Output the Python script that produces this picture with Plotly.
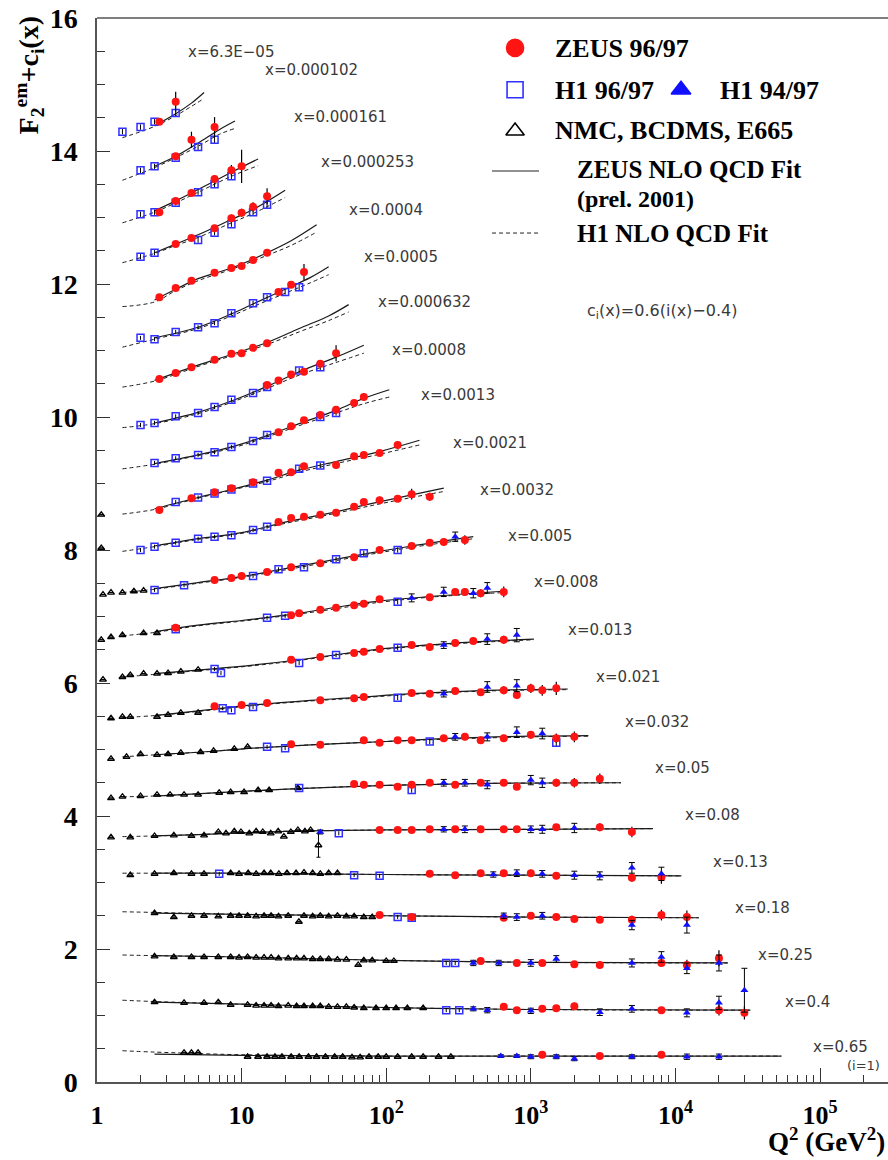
import math
import plotly.graph_objects as go

# x bins, top (i=23) to bottom (i=1); plotted value is F2 + c_i(x), c_i = 0.6(i - 0.4)
X_BINS = ["6.3E-05", "0.000102", "0.000161", "0.000253", "0.0004", "0.0005",
          "0.000632", "0.0008", "0.0013", "0.0021", "0.0032", "0.005", "0.008",
          "0.013", "0.021", "0.032", "0.05", "0.08", "0.13", "0.18", "0.25",
          "0.4", "0.65"]

# (Q2, F2 + c_i, error)
ZEUS_9697 = {
    "6.3E-05": [(2.7, 14.44, 0.04), (3.5, 14.74, 0.15)],
    "0.000102": [(3.5, 13.92, 0.05), (4.5, 14.17, 0.12), (6.5, 14.36, 0.15)],
    "0.000161": [(2.7, 13.08, 0.04), (3.5, 13.25, 0.05), (4.5, 13.37, 0.05), (6.5, 13.58, 0.06),
                 (8.5, 13.71, 0.08), (10, 13.77, 0.25)],
    "0.000253": [(3.5, 12.6, 0.04), (4.5, 12.69, 0.04), (6.5, 12.84, 0.05), (8.5, 12.99, 0.05),
                 (10, 13.07, 0.06), (12, 13.16, 0.07), (15, 13.32, 0.12)],
    "0.0004": [(2.7, 11.8, 0.04), (3.5, 11.94, 0.04), (4.5, 12.05, 0.04), (6.5, 12.17, 0.04),
               (8.5, 12.24, 0.04), (10, 12.27, 0.04), (12, 12.36, 0.05), (15, 12.47, 0.05)],
    "0.0005": [(18, 11.88, 0.04), (22, 11.99, 0.05), (27, 12.18, 0.12)],
    "0.000632": [(2.7, 10.57, 0.04), (3.5, 10.66, 0.04), (4.5, 10.75, 0.04), (6.5, 10.86, 0.04),
                 (8.5, 10.95, 0.04), (10, 10.96, 0.04), (12, 11.04, 0.04), (15, 11.11, 0.05)],
    "0.0008": [(15, 10.48, 0.04), (18, 10.55, 0.04), (22, 10.64, 0.04), (27, 10.68, 0.05),
               (35, 10.8, 0.05), (45, 10.96, 0.12)],
    "0.0013": [(18, 9.77, 0.04), (22, 9.86, 0.04), (27, 9.95, 0.04), (35, 10.03, 0.04),
               (45, 10.11, 0.05), (60, 10.21, 0.05), (70, 10.3, 0.06)],
    "0.0021": [(2.7, 8.6, 0.04), (4.5, 8.78, 0.04), (6.5, 8.87, 0.04), (8.5, 8.93, 0.04),
               (12, 9.02, 0.04), (18, 9.16, 0.04), (22, 9.17, 0.04), (27, 9.26, 0.04),
               (45, 9.28, 0.04), (60, 9.41, 0.04), (70, 9.43, 0.05), (90, 9.46, 0.05),
               (120, 9.58, 0.06)],
    "0.0032": [(18, 8.42, 0.04), (22, 8.48, 0.04), (27, 8.5, 0.04), (35, 8.53, 0.04),
               (45, 8.56, 0.04), (60, 8.65, 0.04), (70, 8.72, 0.04), (90, 8.75, 0.05),
               (120, 8.77, 0.05), (150, 8.84, 0.08), (200, 8.8, 0.06)],
    "0.005": [(6.5, 7.55, 0.04), (8.5, 7.58, 0.04), (10, 7.61, 0.04), (15, 7.67, 0.04),
              (22, 7.74, 0.04), (35, 7.8, 0.04), (60, 7.89, 0.04), (90, 8.0, 0.04),
              (150, 8.06, 0.05), (200, 8.11, 0.05), (250, 8.12, 0.06), (350, 8.15, 0.07)],
    "0.008": [(3.5, 6.83, 0.04), (22, 7.02, 0.04), (25, 7.05, 0.04), (35, 7.1, 0.04),
              (45, 7.13, 0.04), (60, 7.17, 0.04), (70, 7.19, 0.04), (90, 7.26, 0.04),
              (200, 7.29, 0.05), (300, 7.37, 0.05), (350, 7.37, 0.06), (450, 7.35, 0.06),
              (650, 7.37, 0.08)],
    "0.013": [(22, 6.35, 0.04), (35, 6.39, 0.04), (60, 6.45, 0.04), (70, 6.47, 0.04),
              (90, 6.51, 0.04), (150, 6.57, 0.04), (200, 6.54, 0.04), (300, 6.6, 0.05),
              (400, 6.63, 0.05), (650, 6.65, 0.06)],
    "0.021": [(6.5, 5.65, 0.04), (10, 5.67, 0.04), (15, 5.7, 0.04), (35, 5.74, 0.04),
              (60, 5.77, 0.04), (70, 5.79, 0.04), (150, 5.85, 0.04), (200, 5.84, 0.04),
              (300, 5.88, 0.05), (450, 5.86, 0.05), (650, 5.89, 0.06), (800, 5.82, 0.06),
              (1000, 5.92, 0.07), (1200, 5.89, 0.08), (1500, 5.92, 0.1)],
    "0.032": [(22, 5.08, 0.04), (35, 5.07, 0.04), (70, 5.14, 0.04), (90, 5.1, 0.04),
              (120, 5.14, 0.04), (150, 5.14, 0.04), (250, 5.17, 0.04), (350, 5.19, 0.05),
              (450, 5.14, 0.05), (650, 5.17, 0.05), (1000, 5.22, 0.06), (1500, 5.17, 0.07),
              (2000, 5.19, 0.08)],
    "0.05": [(60, 4.48, 0.04), (70, 4.47, 0.04), (90, 4.47, 0.04), (120, 4.44, 0.04),
             (150, 4.47, 0.04), (200, 4.5, 0.04), (300, 4.47, 0.04), (450, 4.5, 0.05),
             (650, 4.5, 0.05), (800, 4.44, 0.05), (1500, 4.5, 0.06), (2000, 4.5, 0.07),
             (3000, 4.56, 0.08)],
    "0.08": [(90, 3.79, 0.04), (120, 3.79, 0.04), (150, 3.79, 0.04), (200, 3.8, 0.04),
             (300, 3.8, 0.04), (450, 3.8, 0.04), (650, 3.8, 0.05), (800, 3.8, 0.05),
             (1500, 3.83, 0.05), (3000, 3.83, 0.06), (5000, 3.76, 0.08)],
    "0.13": [(200, 3.13, 0.04), (300, 3.11, 0.04), (450, 3.14, 0.04), (650, 3.14, 0.04),
             (1000, 3.14, 0.05), (1500, 3.1, 0.05), (5000, 3.07, 0.06), (8000, 3.08, 0.1)],
    "0.18": [(90, 2.51, 0.04), (150, 2.48, 0.04), (650, 2.47, 0.04), (1000, 2.5, 0.04),
             (1500, 2.48, 0.05), (2000, 2.45, 0.05), (3000, 2.44, 0.05), (5000, 2.44, 0.06),
             (8000, 2.51, 0.08), (12000, 2.48, 0.1)],
    "0.25": [(450, 1.82, 0.04), (800, 1.79, 0.04), (1200, 1.79, 0.04), (2000, 1.77, 0.05),
             (3000, 1.76, 0.05), (8000, 1.79, 0.06), (12000, 1.76, 0.08), (20000, 1.86, 0.12)],
    "0.4": [(650, 1.13, 0.04), (800, 1.08, 0.04), (1200, 1.1, 0.04), (1500, 1.11, 0.04),
            (2000, 1.14, 0.05), (8000, 1.08, 0.05), (20000, 1.08, 0.08), (30000, 1.04, 0.1)],
    "0.65": [(1200, 0.41, 0.03), (3000, 0.39, 0.03), (8000, 0.41, 0.04)],
}

H1_9697 = {
    "6.3E-05": [(1.5, 14.29, 0.04), (2.0, 14.36, 0.04), (2.5, 14.44, 0.04), (3.5, 14.57, 0.05)],
    "0.000102": [(2.0, 13.71, 0.04), (2.5, 13.77, 0.04), (3.5, 13.9, 0.04), (5.0, 14.06, 0.05),
                 (6.5, 14.17, 0.06)],
    "0.000161": [(2.0, 13.05, 0.04), (2.5, 13.08, 0.04), (3.5, 13.22, 0.04), (5.0, 13.38, 0.04),
                 (6.5, 13.5, 0.05), (8.5, 13.62, 0.05)],
    "0.000253": [(2.0, 12.41, 0.04), (2.5, 12.47, 0.04), (5.0, 12.66, 0.04), (6.5, 12.77, 0.04),
                 (8.5, 12.9, 0.04), (12, 13.08, 0.05), (15, 13.19, 0.05)],
    "0.0005": [(2.0, 11.19, 0.03), (2.5, 11.17, 0.03), (3.5, 11.28, 0.03), (5.0, 11.35, 0.03),
               (6.5, 11.41, 0.03), (8.5, 11.56, 0.03), (12, 11.71, 0.04), (15, 11.8, 0.04),
               (20, 11.88, 0.04), (25, 11.95, 0.05)],
    "0.0008": [(2.0, 9.88, 0.03), (2.5, 9.91, 0.03), (3.5, 10.01, 0.03), (5.0, 10.06, 0.03),
               (6.5, 10.15, 0.03), (8.5, 10.26, 0.03), (12, 10.36, 0.03), (15, 10.45, 0.04),
               (25, 10.7, 0.04), (35, 10.75, 0.05)],
    "0.0013": [(2.5, 9.31, 0.03), (3.5, 9.38, 0.03), (5.0, 9.43, 0.03), (6.5, 9.47, 0.03),
               (8.5, 9.55, 0.03), (12, 9.64, 0.03), (15, 9.73, 0.03), (35, 10.0, 0.04),
               (45, 10.06, 0.04)],
    "0.0021": [(3.5, 8.72, 0.03), (5.0, 8.79, 0.03), (6.5, 8.85, 0.03), (8.5, 8.91, 0.03),
               (12, 9.0, 0.03), (15, 9.04, 0.03), (25, 9.22, 0.04), (35, 9.27, 0.04)],
    "0.0032": [(2.0, 8.0, 0.03), (2.5, 8.05, 0.03), (3.5, 8.11, 0.03), (5.0, 8.17, 0.03),
               (6.5, 8.2, 0.03), (8.5, 8.22, 0.03), (12, 8.3, 0.03), (15, 8.35, 0.03)],
    "0.005": [(2.5, 7.4, 0.03), (4.0, 7.47, 0.03), (12, 7.61, 0.03), (18, 7.71, 0.03),
              (27, 7.74, 0.03), (45, 7.86, 0.04), (70, 7.95, 0.04), (120, 8.0, 0.04)],
    "0.008": [(3.5, 6.81, 0.03), (15, 6.98, 0.03), (20, 7.01, 0.03), (120, 7.22, 0.04)],
    "0.013": [(6.5, 6.21, 0.03), (7.2, 6.15, 0.03), (25, 6.3, 0.03), (45, 6.42, 0.03),
              (120, 6.53, 0.04)],
    "0.021": [(7.4, 5.62, 0.03), (8.5, 5.59, 0.03), (12, 5.64, 0.03), (120, 5.78, 0.04)],
    "0.032": [(15, 5.04, 0.03), (20, 5.02, 0.03), (200, 5.12, 0.04), (1500, 5.1, 0.06)],
    "0.05": [(25, 4.42, 0.03), (150, 4.39, 0.04)],
    "0.08": [(47, 3.74, 0.03)],
    "0.13": [(7.0, 3.13, 0.03), (60, 3.11, 0.03), (90, 3.1, 0.03)],
    "0.18": [(120, 2.48, 0.03), (150, 2.47, 0.03)],
    "0.25": [(260, 1.79, 0.03), (300, 1.79, 0.03)],
    "0.4": [(260, 1.08, 0.03), (320, 1.08, 0.03)],
}

H1_9497 = {
    "0.005": [(300, 8.2, 0.07)],
    "0.008": [(150, 7.28, 0.06), (250, 7.37, 0.07), (400, 7.35, 0.07), (500, 7.43, 0.08)],
    "0.013": [(250, 6.57, 0.05), (500, 6.66, 0.08), (800, 6.72, 0.1)],
    "0.021": [(250, 5.84, 0.05), (500, 5.94, 0.08), (800, 5.96, 0.09)],
    "0.032": [(300, 5.19, 0.05), (500, 5.19, 0.06), (800, 5.26, 0.08), (1200, 5.24, 0.08)],
    "0.05": [(250, 4.5, 0.05), (350, 4.5, 0.05), (500, 4.47, 0.06), (1000, 4.54, 0.07),
             (1200, 4.5, 0.07)],
    "0.08": [(35, 3.76, 0.03), (250, 3.8, 0.04), (350, 3.8, 0.05), (1000, 3.8, 0.05),
             (1200, 3.8, 0.06), (2000, 3.82, 0.07)],
    "0.13": [(550, 3.12, 0.04), (800, 3.14, 0.05), (1200, 3.13, 0.05), (2000, 3.11, 0.06),
             (3000, 3.1, 0.06), (5000, 3.22, 0.08), (8000, 3.13, 0.1)],
    "0.18": [(650, 2.5, 0.04), (800, 2.48, 0.05), (1200, 2.5, 0.05), (5000, 2.36, 0.07),
             (12000, 2.36, 0.12)],
    "0.25": [(400, 1.79, 0.04), (600, 1.79, 0.04), (1000, 1.79, 0.05), (1500, 1.85, 0.05),
             (5000, 1.79, 0.06), (8000, 1.88, 0.08), (12000, 1.71, 0.08), (20000, 1.79, 0.12)],
    "0.4": [(400, 1.1, 0.03), (500, 1.08, 0.04), (1000, 1.07, 0.04), (3000, 1.05, 0.05),
            (5000, 1.1, 0.05), (12000, 1.04, 0.06), (20000, 1.19, 0.1), (30000, 1.38, 0.33)],
    "0.65": [(620, 0.39, 0.02), (800, 0.39, 0.02), (1000, 0.38, 0.03), (1500, 0.38, 0.03),
             (2000, 0.35, 0.03), (5000, 0.38, 0.03), (12000, 0.38, 0.04), (20000, 0.38, 0.04)],
}

# NMC, BCDMS, E665
FIXED_TARGET = {
    "0.0021": [(1.07, 8.53, 0)],
    "0.0032": [(1.07, 8.03, 0)],
    "0.005": [(1.1, 7.33, 0), (1.25, 7.36, 0), (1.5, 7.36, 0), (1.8, 7.38, 0), (2.1, 7.39, 0)],
    "0.008": [(1.07, 6.65, 0), (1.25, 6.69, 0), (1.5, 6.72, 0), (2.1, 6.75, 0), (2.6, 6.75, 0)],
    "0.013": [(1.1, 6.05, 0), (1.5, 6.09, 0), (1.7, 6.12, 0), (2.1, 6.14, 0), (2.6, 6.14, 0),
              (3.1, 6.15, 0), (3.8, 6.17, 0), (5.0, 6.2, 0)],
    "0.021": [(1.25, 5.47, 0), (1.5, 5.49, 0), (1.7, 5.49, 0), (2.6, 5.49, 0), (3.1, 5.52, 0),
              (3.8, 5.55, 0), (5.0, 5.55, 0)],
    "0.032": [(1.25, 4.86, 0), (1.6, 4.89, 0), (2.0, 4.93, 0), (2.6, 4.92, 0), (3.1, 4.93, 0),
              (3.8, 4.95, 0), (5.2, 4.96, 0), (6.4, 4.98, 0), (8.9, 5.01, 0), (11, 5.04, 0)],
    "0.05": [(1.25, 4.27, 0), (1.5, 4.29, 0), (2.0, 4.3, 0), (2.6, 4.32, 0), (3.2, 4.32, 0),
             (4.0, 4.32, 0), (5.0, 4.32, 0), (7.0, 4.35, 0), (8.4, 4.36, 0), (10.4, 4.36, 0),
             (13, 4.39, 0), (15.5, 4.39, 0), (24.5, 4.42, 0)],
    "0.08": [(1.25, 3.68, 0), (1.7, 3.68, 0), (2.5, 3.7, 0), (3.4, 3.71, 0), (4.5, 3.7, 0),
             (5.5, 3.71, 0), (6.9, 3.76, 0), (7.8, 3.74, 0), (8.9, 3.77, 0), (9.9, 3.76, 0),
             (11.3, 3.74, 0), (12.6, 3.77, 0), (14, 3.76, 0), (15.9, 3.74, 0), (17.9, 3.77, 0),
             (19.6, 3.69, 0), (21.9, 3.76, 0), (24.5, 3.79, 0), (27.4, 3.77, 0), (30, 3.79, 0),
             (34, 3.56, 0.18)],
    "0.13": [(1.7, 3.11, 0), (2.5, 3.13, 0), (3.4, 3.14, 0), (4.5, 3.13, 0), (5.5, 3.13, 0),
             (8.4, 3.14, 0), (9.6, 3.13, 0), (11.1, 3.14, 0), (12.6, 3.13, 0), (14.3, 3.14, 0),
             (15.9, 3.14, 0), (18.1, 3.13, 0), (20.6, 3.14, 0), (23.8, 3.14, 0), (27, 3.15, 0),
             (31, 3.14, 0), (35, 3.13, 0), (40, 3.14, 0), (46, 3.14, 0)],
    "0.18": [(2.5, 2.54, 0), (3.4, 2.48, 0), (4.5, 2.5, 0), (5.5, 2.5, 0), (6.9, 2.49, 0),
             (8.4, 2.5, 0), (9.6, 2.5, 0), (11, 2.5, 0), (12.6, 2.49, 0), (14.3, 2.5, 0),
             (16, 2.5, 0), (18, 2.49, 0), (21, 2.5, 0), (24.9, 2.41, 0), (27, 2.5, 0),
             (31, 2.49, 0), (35, 2.5, 0), (40, 2.49, 0), (46, 2.5, 0), (53, 2.49, 0),
             (60, 2.49, 0), (70, 2.48, 0), (80, 2.48, 0)],
    "0.25": [(2.5, 1.89, 0), (3.4, 1.88, 0), (4.5, 1.88, 0), (5.5, 1.88, 0), (6.9, 1.88, 0),
             (8.4, 1.88, 0), (9.6, 1.87, 0), (11, 1.88, 0), (12.6, 1.87, 0), (14.3, 1.87, 0),
             (16, 1.87, 0), (18, 1.86, 0), (21, 1.86, 0), (24, 1.86, 0), (27, 1.86, 0),
             (31, 1.85, 0), (35, 1.85, 0), (40, 1.85, 0), (46, 1.84, 0), (53, 1.84, 0),
             (64, 1.76, 0), (70, 1.83, 0), (80, 1.83, 0), (100, 1.82, 0), (113, 1.82, 0)],
    "0.4": [(2.5, 1.2, 0), (4.0, 1.19, 0), (5.5, 1.19, 0), (6.9, 1.2, 0), (8.4, 1.16, 0),
            (11, 1.16, 0), (12.6, 1.15, 0), (14.3, 1.15, 0), (16, 1.15, 0), (18, 1.14, 0),
            (21, 1.15, 0), (24, 1.14, 0), (27, 1.14, 0), (31, 1.14, 0), (35, 1.14, 0),
            (40, 1.13, 0), (46, 1.13, 0), (53, 1.13, 0), (60, 1.12, 0), (70, 1.11, 0),
            (85, 1.11, 0), (100, 1.11, 0), (117, 1.11, 0), (140, 1.11, 0), (180, 1.11, 0)],
    "0.65": [(4.0, 0.44, 0), (4.5, 0.44, 0), (5.0, 0.44, 0), (11, 0.38, 0), (13, 0.38, 0),
             (15, 0.38, 0), (17, 0.38, 0), (19, 0.38, 0), (22, 0.38, 0), (25, 0.38, 0),
             (29, 0.38, 0), (33, 0.38, 0), (38, 0.38, 0), (44, 0.38, 0), (50, 0.38, 0),
             (58, 0.37, 0), (66, 0.37, 0), (76, 0.38, 0), (88, 0.38, 0), (100, 0.38, 0),
             (120, 0.38, 0), (150, 0.38, 0), (180, 0.38, 0), (230, 0.38, 0), (280, 0.38, 0)],
}

# NLO QCD fit curves, (Q2, F2 + c_i) nodes
ZEUS_FIT = {
    "6.3E-05": [(2.5, 14.38), (3.5, 14.56), (4.5, 14.72), (5.5, 14.88)],
    "0.000102": [(2.5, 13.77), (3.5, 13.92), (5, 14.12), (7, 14.32), (9, 14.45)],
    "0.000161": [(2.5, 13.1), (3.5, 13.25), (5, 13.42), (8.5, 13.68), (13, 13.88)],
    "0.000253": [(2.5, 12.47), (3.5, 12.6), (5, 12.74), (8.5, 12.97), (12, 13.12), (20, 13.41)],
    "0.0004": [(2.5, 11.76), (3.5, 11.92), (5, 12.08), (8.5, 12.24), (15, 12.47), (22, 12.65),
               (33, 12.89)],
    "0.0005": [(2.5, 11.19), (5, 11.35), (8.5, 11.55), (12, 11.7), (20, 11.92), (30, 12.1),
               (40, 12.26)],
    "0.000632": [(2.5, 10.55), (5, 10.78), (8.5, 10.94), (15, 11.12), (25, 11.33), (40, 11.52),
                 (55, 11.69)],
    "0.0008": [(2.5, 9.91), (5, 10.07), (8.5, 10.24), (15, 10.46), (25, 10.68), (45, 10.9),
               (70, 11.08)],
    "0.0013": [(2.5, 9.3), (5, 9.43), (8.5, 9.55), (15, 9.72), (25, 9.9), (45, 10.1),
               (70, 10.28), (105, 10.41)],
    "0.0021": [(2.5, 8.62), (5, 8.79), (8.5, 8.91), (15, 9.05), (25, 9.2), (45, 9.33),
               (90, 9.48), (170, 9.65)],
    "0.0032": [(2.5, 8.06), (5, 8.17), (10, 8.26), (20, 8.42), (40, 8.55), (80, 8.7),
               (150, 8.83), (250, 8.93)],
    "0.005": [(2.5, 7.42), (5, 7.51), (10, 7.6), (20, 7.72), (40, 7.84), (80, 7.96),
              (150, 8.06), (400, 8.2)],
    "0.008": [(2.5, 6.77), (5, 6.87), (10, 6.94), (20, 7.02), (40, 7.12), (80, 7.22),
              (200, 7.3), (650, 7.38)],
    "0.013": [(2.5, 6.14), (6, 6.21), (12, 6.27), (25, 6.35), (50, 6.44), (100, 6.52),
              (300, 6.6), (1050, 6.66)],
    "0.021": [(2.5, 5.51), (6, 5.6), (12, 5.67), (30, 5.74), (60, 5.78), (150, 5.84),
              (500, 5.89), (1800, 5.91)],
    "0.032": [(2.5, 4.92), (6, 4.97), (12, 5.02), (30, 5.07), (100, 5.12), (300, 5.17),
              (1000, 5.2), (2500, 5.21)],
    "0.05": [(2.5, 4.3), (10, 4.37), (30, 4.42), (100, 4.46), (500, 4.49), (4200, 4.5)],
    "0.08": [(2.5, 3.7), (5, 3.72), (20, 3.77), (100, 3.79), (1000, 3.8), (7000, 3.81)],
    "0.13": [(2.5, 3.14), (10, 3.14), (100, 3.12), (1000, 3.11), (11000, 3.1)],
    "0.18": [(2.5, 2.54), (10, 2.52), (100, 2.5), (1000, 2.48), (14500, 2.47)],
    "0.25": [(2.5, 1.9), (10, 1.88), (100, 1.83), (1000, 1.8), (23000, 1.79)],
    "0.4": [(2.5, 1.2), (10, 1.17), (100, 1.12), (1000, 1.09), (33000, 1.08)],
    "0.65": [(2.5, 0.42), (10, 0.4), (100, 0.39), (1000, 0.39), (54000, 0.39)],
}

H1_FIT = {
    "6.3E-05": [(1.5, 14.2), (2.5, 14.37), (3.5, 14.53), (5.5, 14.79)],
    "0.000102": [(1.5, 13.56), (2.5, 13.75), (3.5, 13.9), (5, 14.07), (7, 14.25), (9, 14.34)],
    "0.000161": [(1.5, 12.92), (2.5, 13.08), (3.5, 13.22), (5, 13.38), (8.5, 13.62), (13, 13.78)],
    "0.000253": [(1.5, 12.32), (2.5, 12.46), (3.5, 12.58), (5, 12.7), (8.5, 12.92), (12, 13.06),
                 (20, 13.3)],
    "0.0004": [(1.5, 11.66), (2.5, 11.73), (3.5, 11.9), (5, 12.05), (8.5, 12.22), (15, 12.43),
               (22, 12.58), (33, 12.78)],
    "0.0005": [(1.5, 11.05), (2.5, 11.17), (5, 11.33), (8.5, 11.52), (12, 11.66), (20, 11.86),
               (30, 12.02), (40, 12.14)],
    "0.000632": [(1.5, 10.45), (2.5, 10.54), (5, 10.76), (8.5, 10.92), (15, 11.09), (25, 11.28),
                 (40, 11.45), (55, 11.58)],
    "0.0008": [(1.5, 9.84), (2.5, 9.9), (5, 10.05), (8.5, 10.22), (15, 10.43), (25, 10.63),
               (45, 10.82), (70, 10.96)],
    "0.0013": [(1.5, 9.22), (2.5, 9.29), (5, 9.42), (8.5, 9.53), (15, 9.7), (25, 9.87),
               (45, 10.06), (70, 10.2), (105, 10.3)],
    "0.0021": [(1.5, 8.54), (2.5, 8.61), (5, 8.78), (8.5, 8.9), (15, 9.03), (25, 9.17),
               (45, 9.3), (90, 9.44), (170, 9.58)],
    "0.0032": [(1.5, 7.98), (2.5, 8.05), (5, 8.16), (10, 8.25), (20, 8.4), (40, 8.53),
               (80, 8.67), (150, 8.79), (250, 8.88)],
    "0.005": [(1.5, 7.36), (2.5, 7.41), (5, 7.5), (10, 7.59), (20, 7.7), (40, 7.82),
              (80, 7.94), (150, 8.04), (400, 8.17)],
    "0.008": [(1.5, 6.71), (2.5, 6.76), (5, 6.86), (10, 6.93), (20, 7.01), (40, 7.1),
              (80, 7.2), (200, 7.29), (650, 7.36)],
    "0.013": [(1.5, 6.09), (2.5, 6.13), (6, 6.2), (12, 6.26), (25, 6.34), (50, 6.43),
              (100, 6.51), (300, 6.59), (1050, 6.65)],
    "0.021": [(1.5, 5.48), (2.5, 5.51), (6, 5.59), (12, 5.66), (30, 5.73), (60, 5.77),
              (150, 5.83), (500, 5.88), (1800, 5.9)],
    "0.032": [(1.5, 4.89), (2.5, 4.92), (6, 4.97), (12, 5.02), (30, 5.07), (100, 5.12),
              (300, 5.16), (1000, 5.19), (2500, 5.2)],
    "0.05": [(1.5, 4.29), (2.5, 4.3), (10, 4.37), (30, 4.42), (100, 4.46), (500, 4.49),
             (4200, 4.5)],
    "0.08": [(1.5, 3.69), (2.5, 3.7), (5, 3.72), (20, 3.77), (100, 3.79), (1000, 3.8),
             (7000, 3.81)],
    "0.13": [(1.5, 3.14), (2.5, 3.14), (10, 3.14), (100, 3.12), (1000, 3.11), (11000, 3.1)],
    "0.18": [(1.5, 2.56), (2.5, 2.55), (10, 2.52), (100, 2.5), (1000, 2.48), (14500, 2.47)],
    "0.25": [(1.5, 1.91), (2.5, 1.9), (10, 1.88), (100, 1.83), (1000, 1.8), (23000, 1.79)],
    "0.4": [(1.5, 1.23), (2.5, 1.21), (10, 1.17), (100, 1.12), (1000, 1.09), (33000, 1.08)],
    "0.65": [(1.5, 0.47), (2.5, 0.45), (10, 0.41), (100, 0.39), (1000, 0.39), (54000, 0.39)],
}

# caption anchor for each x bin (Q2, F2 + c_i), left edge of the text
LABEL_Q2 = [4.13, 14.1, 22.3, 34.3, 53.6, 68.0, 85.0, 106, 169, 281, 431, 676, 1019,
            1750, 2735, 4345, 7000, 11290, 17620, 25020, 36060, 55470, 86700]
LABEL_Y = [15.49, 15.22, 14.51, 13.83, 13.11, 12.41, 11.73, 11.01, 10.33, 9.61, 8.9, 8.21,
           7.52, 6.8, 6.09, 5.41, 4.72, 4.02, 3.31, 2.62, 1.91, 1.2, 0.53]

X_TICKS = [1, 10, 100, 1e3, 1e4, 1e5]
X_TICK_TEXT = ["1", "10", "10<sup>2</sup>", "10<sup>3</sup>", "10<sup>4</sup>", "10<sup>5</sup>"]

SERIF = "Liberation Serif"
SANS = "DejaVu Sans"
BLUE = "#2f2fff"
RED = "#ff1414"


def flatten(table):
    q, v, e = [], [], []
    for xb in X_BINS:
        for p in table.get(xb, []):
            q.append(p[0])
            v.append(p[1])
            e.append(p[2])
    return q, v, e


def curve(table):
    q, v = [], []
    for xb in X_BINS:
        for p in table.get(xb, []):
            q.append(p[0])
            v.append(p[1])
        q.append(None)
        v.append(None)
    return q, v


fig = go.Figure()

zq, zv = curve(ZEUS_FIT)
fig.add_trace(go.Scatter(x=zq, y=zv, mode="lines", line=dict(color="#1a1a1a", width=1.2, shape="spline"),
                         connectgaps=False, hoverinfo="skip"))
hq, hv = curve(H1_FIT)
fig.add_trace(go.Scatter(x=hq, y=hv, mode="lines",
                         line=dict(color="#1a1a1a", width=1, dash="4px,3px", shape="spline"),
                         connectgaps=False, hoverinfo="skip"))

fq, fv, fe = flatten(FIXED_TARGET)
fig.add_trace(go.Scatter(x=fq, y=fv, mode="markers",
                         marker=dict(symbol="triangle-up-open", size=6, color="black",
                                     line=dict(width=1.3, color="black")),
                         error_y=dict(type="data", array=fe, width=2, thickness=1, color="black")))

sq, sv, se = flatten(H1_9697)
fig.add_trace(go.Scatter(x=sq, y=sv, mode="markers",
                         marker=dict(symbol="square-open", size=7, color=BLUE,
                                     line=dict(width=1.5, color=BLUE)),
                         error_y=dict(type="data", array=se, width=0, thickness=1, color="black")))

rq, rv, re_ = flatten(ZEUS_9697)
fig.add_trace(go.Scatter(x=rq, y=rv, mode="markers",
                         marker=dict(symbol="circle", size=8, color=RED, line=dict(width=0)),
                         error_y=dict(type="data", array=re_, width=0, thickness=1.2, color="black")))

tq, tv, te = flatten(H1_9497)
fig.add_trace(go.Scatter(x=tq, y=tv, mode="markers",
                         marker=dict(symbol="triangle-up", size=7, color="#1010ff", line=dict(width=0)),
                         error_y=dict(type="data", array=te, width=3, thickness=1, color="black")))

# legend symbols (upper-right corner of the frame)
LEGEND_SYMBOLS = [
    (778, 15.55, "circle", RED, 17),
    (778, 14.92, "square-open", BLUE, 16),
    (10930, 14.92, "triangle-up", "#1010ff", 17),
    (778, 14.30, "triangle-up-open", "black", 16),
]
for lx, ly, sym, col, size in LEGEND_SYMBOLS:
    fig.add_trace(go.Scatter(x=[lx], y=[ly], mode="markers", hoverinfo="skip",
                             marker=dict(symbol=sym, size=size, color=col,
                                         line=dict(width=1.6, color=col))))

annotations = []
# annotation x on a log axis is given as log10(Q2)
for xb, lq, ly in zip(X_BINS, LABEL_Q2, LABEL_Y):
    annotations.append(dict(x=math.log10(lq), y=ly, xref="x", yref="y",
                            text="x=" + xb.replace("-", "\u2212"),
                            showarrow=False, xanchor="left", yanchor="middle",
                            font=dict(family=SANS, size=15, color="#3a3a3a")))
annotations.append(dict(x=math.log10(148000), y=0.25, xref="x", yref="y", text="(i=1)",
                        showarrow=False, xanchor="left", yanchor="middle",
                        font=dict(family=SANS, size=13, color="#3a3a3a")))

legend_text = [
    (0.5765, 0.9718, "ZEUS 96/97", 26),
    (0.5765, 0.9323, "H1 96/97", 26),
    (0.7851, 0.9323, "H1 94/97", 26),
    (0.5765, 0.8938, "NMC, BCDMS, E665", 26),
    (0.6043, 0.8572, "ZEUS NLO QCD Fit", 25),
    (0.6043, 0.8300, "(prel. 2001)", 24),
    (0.6043, 0.7979, "H1 NLO QCD Fit", 25),
]
for tx, ty, txt, fs in legend_text:
    annotations.append(dict(x=tx, y=ty, xref="paper", yref="paper", text=txt, showarrow=False,
                            xanchor="left", yanchor="middle",
                            font=dict(family=SERIF, size=fs, color="black", weight="bold")))

annotations.append(dict(x=0.617, y=0.7237, xref="paper", yref="paper",
                        text="c<sub>i</sub>(x)=0.6(i(x)\u22120.4)", showarrow=False,
                        xanchor="left", yanchor="middle", font=dict(family=SANS, size=16, color="#3a3a3a")))

annotations.append(dict(x=-0.086, y=0.946, xref="paper", yref="paper", textangle=-90,
                        text="F<sub>2</sub><sup>em</sup>+c<sub>i</sub>(x)", showarrow=False,
                        xanchor="center", yanchor="middle",
                        font=dict(family=SERIF, size=28, color="black", weight="bold")))
annotations.append(dict(x=0.9985, y=-0.0545, xref="paper", yref="paper",
                        text="Q<sup>2</sup> (GeV<sup>2</sup>)", showarrow=False,
                        xanchor="right", yanchor="middle",
                        font=dict(family=SERIF, size=27, color="black", weight="bold")))

shapes = [
    dict(type="line", xref="paper", yref="paper", x0=0, x1=1, y0=1, y1=1,
         line=dict(color="#555", width=1.5)),
    dict(type="line", xref="paper", yref="paper", x0=0.4994, x1=0.5588, y0=0.8562, y1=0.8562,
         line=dict(color="#222", width=1.2)),
    dict(type="line", xref="paper", yref="paper", x0=0.4994, x1=0.5588, y0=0.7979, y1=0.7979,
         line=dict(color="#222", width=1, dash="4px,3px")),
]

minor_x = [m * 10 ** d for d in range(0, 6) for m in range(2, 10)]

fig.update_layout(
    width=888, height=1160,
    margin=dict(l=97, r=0, t=18, b=78),
    paper_bgcolor="white", plot_bgcolor="white",
    showlegend=False,
    annotations=annotations,
    shapes=shapes,
    xaxis=dict(type="log", range=[0, 5.47], showgrid=False, zeroline=False,
               showline=True, linecolor="#555", linewidth=1.5,
               ticks="inside", ticklen=14, tickwidth=1.2, tickcolor="#333",
               tickvals=X_TICKS, ticktext=X_TICK_TEXT, ticklabelstandoff=9,
               tickfont=dict(family=SERIF, size=26, color="black", weight="bold"),
               minor=dict(ticks="inside", ticklen=7, tickwidth=1.1, tickcolor="#333",
                          tickmode="array", tickvals=minor_x, showgrid=False)),
    yaxis=dict(range=[0, 16], showgrid=False, zeroline=False,
               showline=True, linecolor="#555", linewidth=1.5,
               ticks="inside", ticklen=13, tickwidth=1.2, tickcolor="#333",
               tick0=0, dtick=2, ticklabelstandoff=12,
               tickfont=dict(family=SERIF, size=28, color="black", weight="bold"),
               minor=dict(ticks="inside", ticklen=8, tickwidth=1.1, tickcolor="#333",
                          dtick=0.5, showgrid=False)),
)

fig.write_html("out.html")
